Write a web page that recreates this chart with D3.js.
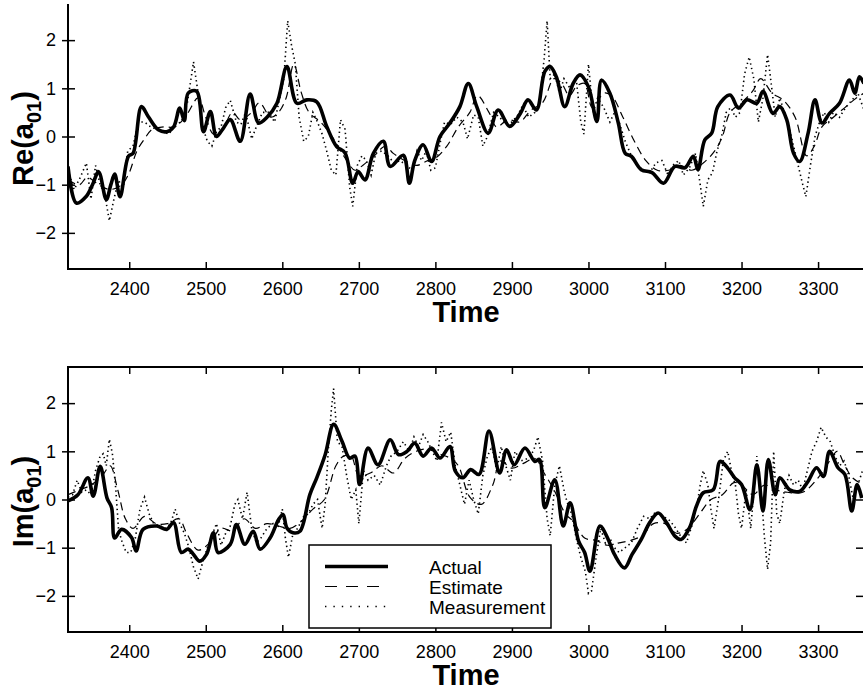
<!DOCTYPE html>
<html>
<head>
<meta charset="utf-8">
<script src="https://cdn.jsdelivr.net/npm/d3@7"></script>
<style>
  html, body { margin: 0; padding: 0; background: #fff; }
  svg { display: block; }
  text { font-family: "Liberation Sans", Arial, Helvetica, sans-serif; fill: #000; }
</style>
</head>
<body>
<svg id="chart" width="863" height="691"></svg>
<script>
// ---------------- DATA ----------------
const xTicks = [2400, 2500, 2600, 2700, 2800, 2900, 3000, 3100, 3200, 3300];
const yTicks = [-2, -1, 0, 1, 2];
const legendLabels = ["Actual", "Estimate", "Measurement"];

// Re(a01) — Actual
const reActualT = [2320,2331,2344,2352,2360,2370,2376,2381,2388,2399,2405,2416,2425,2438,2449,2458,2466,2472,2477,2488,2497,2506,2514,2522,2532,2545,2558,2569,2580,2593,2606,2619,2632,2645,2658,2671,2682,2692,2699,2708,2719,2732,2741,2758,2766,2773,2784,2795,2806,2819,2832,2843,2854,2869,2882,2897,2911,2921,2932,2943,2950,2958,2969,2980,2989,3000,3011,3017,3028,3039,3048,3056,3069,3083,3098,3113,3126,3137,3143,3152,3161,3169,3185,3196,3207,3220,3228,3241,3250,3259,3268,3276,3287,3296,3305,3315,3328,3341,3348,3354,3360];
const reActualV = [-0.62,-1.38,-1.24,-1.0,-0.73,-1.31,-1.0,-0.78,-1.25,-0.41,-0.35,0.62,0.41,0.14,0.1,0.2,0.59,0.33,0.9,0.94,0.1,0.52,0.0,0.15,0.35,-0.1,0.88,0.28,0.4,0.69,1.45,0.69,0.76,0.72,0.21,-0.21,-0.34,-0.97,-0.73,-0.9,-0.35,-0.1,-0.62,-0.39,-0.97,-0.5,-0.17,-0.52,0.0,0.28,0.62,1.1,0.62,0.07,0.55,0.21,0.48,0.76,0.55,1.35,1.45,1.24,0.62,1.1,1.28,1.03,0.31,1.17,0.9,0.28,-0.35,-0.41,-0.69,-0.75,-0.97,-0.62,-0.65,-0.41,-0.69,-0.07,0.07,0.62,0.86,0.59,0.76,0.69,0.94,0.48,0.62,0.35,-0.35,-0.52,0.07,0.76,0.28,0.48,0.69,1.17,0.9,1.24,1.1];

// Re(a01) — Estimate
const reEstimateT = [2320,2335,2345,2360,2375,2390,2400,2410,2420,2430,2445,2460,2475,2490,2500,2510,2520,2535,2545,2560,2570,2585,2595,2605,2615,2625,2635,2650,2665,2680,2695,2705,2720,2735,2745,2760,2775,2790,2800,2815,2830,2845,2855,2870,2880,2895,2910,2925,2940,2955,2965,2975,2985,2995,3005,3020,3030,3045,3060,3075,3090,3105,3120,3135,3150,3165,3175,3185,3200,3215,3225,3240,3255,3270,3285,3295,3305,3320,3335,3350,3360];
const reEstimateV = [-0.9,-1.0,-0.85,-1.0,-1.1,-1.0,-0.75,-0.3,-0.05,0.15,0.2,0.2,0.45,0.8,0.4,0.05,0.1,0.5,0.35,0.5,0.7,0.4,0.5,0.8,1.5,0.9,0.5,0.3,0.0,-0.4,-0.7,-0.6,-0.4,-0.2,-0.35,-0.5,-0.6,-0.5,-0.45,-0.2,0.2,0.5,0.85,0.5,0.2,0.35,0.3,0.55,0.7,1.2,1.1,0.85,1.05,1.1,0.6,0.9,0.85,0.4,-0.1,-0.5,-0.7,-0.7,-0.6,-0.7,-0.55,-0.3,0.0,0.5,0.7,0.95,1.2,0.9,0.75,0.4,-0.4,-0.2,0.2,0.4,0.6,0.8,0.9];

// Re(a01) — Measurement
const reMeasT = [2320,2328,2336,2344,2350,2356,2362,2368,2374,2380,2386,2392,2398,2405,2412,2420,2428,2436,2444,2452,2460,2468,2476,2484,2490,2496,2502,2508,2514,2520,2526,2532,2540,2546,2552,2560,2566,2574,2582,2590,2596,2602,2607,2612,2617,2622,2628,2634,2640,2646,2652,2658,2664,2670,2676,2682,2688,2692,2698,2704,2710,2716,2722,2730,2738,2746,2754,2762,2770,2776,2782,2788,2794,2800,2806,2812,2820,2828,2836,2842,2850,2856,2862,2868,2876,2884,2892,2900,2908,2914,2922,2930,2936,2942,2946,2950,2956,2962,2968,2976,2984,2990,2994,3000,3006,3012,3020,3028,3034,3040,3048,3056,3064,3072,3080,3088,3096,3104,3110,3118,3124,3132,3140,3146,3150,3156,3162,3168,3174,3180,3186,3192,3198,3204,3210,3216,3222,3228,3234,3238,3244,3250,3256,3262,3268,3274,3280,3284,3290,3296,3302,3308,3314,3320,3328,3336,3344,3352,3360];
const reMeasV = [-0.7,-1.1,-0.85,-0.55,-1.3,-0.6,-1.0,-1.2,-1.75,-1.3,-0.9,-1.1,-0.3,-0.2,0.3,0.3,0.2,0.15,0.1,0.05,0.25,0.3,0.7,1.55,0.9,0.2,-0.1,-0.2,0.1,0.2,0.6,0.75,0.3,0.25,0.5,-0.05,0.2,0.5,0.5,0.3,0.75,1.2,2.4,1.9,1.5,0.4,-0.1,0.0,0.5,0.3,0.05,-0.3,-0.7,-0.8,0.35,0.15,-1.05,-1.45,-0.6,-0.4,-0.5,-0.8,-0.35,-0.3,-0.4,-0.55,-0.5,-0.6,-0.7,-0.3,-0.5,-0.3,-0.7,-0.65,-0.15,0.3,0.25,0.4,0.3,-0.05,0.45,0.4,-0.2,0.0,0.5,0.4,0.25,0.3,0.45,0.65,0.4,0.5,0.7,1.6,2.4,1.2,1.3,0.9,1.2,1.0,1.2,0.3,0.05,1.5,0.5,0.8,0.6,0.3,0.5,0.3,-0.1,-0.4,-0.6,-0.7,-0.75,-0.55,-0.5,-0.8,-0.6,-0.5,-0.8,-0.65,-0.35,-1.0,-1.45,-0.9,-0.75,-0.3,0.0,0.5,0.6,0.4,0.5,1.3,1.65,1.2,0.3,0.8,1.7,1.2,0.4,0.8,0.5,0.2,-0.2,-0.6,-1.0,-1.25,-0.6,0.0,0.3,0.5,0.3,0.5,0.4,0.6,0.75,0.9,0.55];

// Im(a01) — Actual
const imActualT = [2320,2333,2346,2353,2362,2371,2377,2381,2390,2403,2409,2418,2436,2449,2458,2468,2477,2484,2492,2501,2510,2516,2532,2540,2551,2562,2571,2584,2595,2601,2606,2614,2623,2636,2645,2656,2667,2678,2688,2695,2701,2712,2725,2741,2752,2763,2773,2784,2795,2806,2819,2826,2836,2846,2857,2870,2884,2893,2903,2917,2930,2936,2943,2956,2967,2976,2987,2995,3002,3015,3025,3034,3047,3057,3069,3080,3091,3102,3113,3121,3132,3141,3150,3163,3172,3180,3191,3200,3211,3220,3228,3235,3244,3250,3263,3276,3287,3298,3307,3315,3326,3335,3344,3351,3357];
const imActualV = [-0.03,0.1,0.45,0.07,0.69,0.03,-0.17,-0.8,-0.62,-0.79,-1.07,-0.62,-0.55,-0.62,-0.48,-1.1,-1.03,-1.14,-1.28,-1.14,-0.69,-1.1,-0.93,-0.52,-0.93,-0.66,-1.03,-0.8,-0.42,-0.31,-0.59,-0.69,-0.66,0.1,0.45,0.93,1.56,1.21,0.86,0.9,0.31,1.07,0.72,1.24,0.93,1.0,1.17,0.9,1.07,0.86,1.1,0.59,0.45,0.62,0.52,1.42,0.55,1.03,0.72,1.07,0.79,0.83,-0.17,0.41,-0.55,-0.07,-0.86,-1.1,-1.49,-0.55,-0.8,-1.14,-1.42,-1.14,-0.83,-0.48,-0.28,-0.48,-0.76,-0.83,-0.59,-0.14,0.14,0.2,0.79,0.69,0.45,0.31,-0.21,0.72,-0.24,0.83,0.1,0.45,0.2,0.17,0.38,0.66,0.48,1.0,0.66,0.52,-0.24,0.31,0.03];

// Im(a01) — Estimate
const imEstimateT = [2320,2335,2350,2365,2375,2385,2395,2405,2420,2435,2450,2465,2475,2490,2505,2520,2535,2550,2565,2580,2595,2610,2625,2640,2655,2670,2680,2690,2700,2715,2730,2745,2760,2775,2790,2805,2820,2830,2845,2860,2875,2885,2900,2915,2930,2942,2955,2970,2980,2995,3010,3025,3040,3055,3070,3085,3100,3115,3130,3145,3160,3175,3190,3200,3215,3230,3245,3260,3280,3300,3315,3325,3335,3345,3360];
const imEstimateV = [0.1,0.2,0.3,0.5,0.7,0.2,-0.4,-0.6,-0.35,-0.5,-0.5,-0.4,-0.7,-1.05,-0.9,-0.6,-0.65,-0.4,-0.6,-0.5,-0.55,-0.6,-0.45,-0.2,0.0,0.7,0.9,0.9,0.5,0.55,0.7,0.55,0.85,1.0,1.05,0.95,0.85,0.7,0.05,-0.1,0.3,0.8,0.65,0.75,0.85,0.55,0.2,-0.3,-0.45,-0.8,-0.85,-0.95,-0.9,-0.85,-0.75,-0.5,-0.5,-0.7,-0.6,-0.3,0.0,0.1,0.35,0.3,0.1,0.3,0.2,0.15,0.15,0.45,0.8,1.0,0.7,0.45,0.3];

// Im(a01) — Measurement
const imMeasT = [2320,2326,2332,2338,2344,2350,2356,2362,2366,2370,2374,2378,2382,2386,2390,2396,2402,2408,2414,2420,2426,2432,2440,2448,2454,2460,2466,2472,2478,2484,2490,2496,2502,2508,2514,2520,2526,2532,2538,2542,2548,2554,2560,2566,2572,2580,2588,2594,2600,2604,2608,2614,2620,2628,2634,2640,2646,2652,2656,2660,2664,2667,2672,2678,2684,2690,2696,2700,2706,2712,2720,2728,2736,2742,2750,2758,2766,2772,2778,2784,2790,2796,2802,2808,2814,2820,2826,2832,2838,2844,2850,2856,2862,2868,2874,2880,2886,2892,2898,2904,2912,2920,2928,2934,2940,2946,2950,2956,2962,2968,2972,2978,2984,2990,2996,3000,3004,3010,3016,3022,3028,3034,3040,3048,3056,3064,3072,3080,3088,3096,3104,3112,3120,3128,3136,3142,3146,3150,3156,3160,3164,3170,3176,3182,3188,3192,3196,3200,3206,3212,3220,3226,3230,3234,3238,3242,3246,3250,3256,3262,3268,3274,3280,3286,3292,3298,3304,3310,3316,3322,3328,3334,3340,3346,3352,3358];
const imMeasV = [0.05,0.1,0.4,0.15,0.2,0.1,0.6,0.9,0.95,0.7,1.25,0.95,0.3,-0.6,-0.85,-1.1,-1.1,-0.8,-0.2,0.05,-0.3,-0.5,-0.55,-0.6,-0.5,-0.2,-0.5,-0.7,-1.0,-1.4,-1.65,-1.3,-1.0,-0.75,-0.5,-0.95,-0.7,-0.55,-0.1,0.0,-0.4,0.15,-0.6,-0.9,-0.8,-0.6,-0.5,-0.6,-0.2,-0.8,-1.2,-0.7,-0.6,-0.35,-0.3,-0.1,0.0,-0.6,-0.1,1.0,1.85,2.3,1.2,1.1,0.5,0.0,0.2,-0.5,0.6,0.4,0.5,0.3,0.7,0.9,1.0,1.2,1.0,1.3,1.1,1.35,1.2,1.0,0.8,1.6,1.2,1.4,0.7,0.3,-0.1,0.4,0.0,-0.3,0.5,0.9,1.1,0.6,1.1,0.7,0.4,1.0,0.8,0.85,1.0,1.3,0.8,-0.4,-0.75,0.3,0.7,0.2,-0.05,-0.3,-0.8,-1.2,-1.5,-1.95,-1.9,-1.2,-0.6,-0.9,-0.8,-1.0,-1.1,-1.0,-0.9,-0.6,-0.35,-0.4,-0.25,-0.35,-0.4,-0.55,-0.75,-0.9,-0.5,-0.1,0.3,0.6,0.3,-0.2,-0.6,0.0,0.8,1.0,0.5,0.3,-0.3,-0.6,0.2,-0.6,0.9,0.1,-0.8,-1.45,-0.9,1.0,-0.3,-0.5,0.2,0.5,0.3,0.4,0.2,0.6,1.0,1.2,1.5,1.3,1.2,0.9,0.7,0.8,0.5,0.0,0.3,0.6];

// ---------------- DRAWING ----------------
const svg = d3.select("#chart");
const xLeft = 68, xRight = 864;
const x = d3.scaleLinear().domain([2320, 3360]).range([xLeft, xRight]);

const panels = [
  { id: "re", top: 4, bottom: 269, label: "Re(a", drawTop: false,
    actual: [reActualT, reActualV], estimate: [reEstimateT, reEstimateV], meas: [reMeasT, reMeasV] },
  { id: "im", top: 367, bottom: 632, label: "Im(a", drawTop: true,
    actual: [imActualT, imActualV], estimate: [imEstimateT, imEstimateV], meas: [imMeasT, imMeasV] }
];

const zip = (t, v) => t.map((d, i) => [d, v[i]]);

panels.forEach(p => {
  const y = d3.scaleLinear().domain([-2.75, 2.75]).range([p.bottom, p.top]);
  const g = svg.append("g");

  svg.append("clipPath").attr("id", "clip-" + p.id)
    .append("rect").attr("x", xLeft).attr("y", p.top).attr("width", xRight - xLeft).attr("height", p.bottom - p.top);

  const lineLin = d3.line().x(d => x(d[0])).y(d => y(d[1]));
  const lineSmooth = d3.line().x(d => x(d[0])).y(d => y(d[1])).curve(d3.curveCatmullRom.alpha(0.5));
  const plot = g.append("g").attr("clip-path", "url(#clip-" + p.id + ")");

  plot.append("path").datum(zip(...p.meas)).attr("d", lineLin)
    .attr("fill", "none").attr("stroke", "#000").attr("stroke-width", 1.6)
    .attr("stroke-dasharray", "1.4,3.2");
  plot.append("path").datum(zip(...p.estimate)).attr("d", lineSmooth)
    .attr("fill", "none").attr("stroke", "#000").attr("stroke-width", 1.2)
    .attr("stroke-dasharray", "8,5");
  plot.append("path").datum(zip(...p.actual)).attr("d", lineSmooth)
    .attr("fill", "none").attr("stroke", "#000").attr("stroke-width", 3.6)
    .attr("stroke-linejoin", "round");

  // Axes (ticks pointing inward)
  const xb = d3.axisBottom(x).tickValues(xTicks).tickSize(-7).tickPadding(10).tickFormat(d3.format("d"));
  const gx = g.append("g").attr("transform", `translate(0,${p.bottom})`).call(xb);
  gx.select(".domain").remove();
  gx.selectAll("text").attr("font-size", 18).attr("dy", "0.9em");
  gx.selectAll("line").attr("stroke-width", 1.5);

  const yl = d3.axisLeft(y).tickValues(yTicks).tickSize(7).tickPadding(6).tickFormat(d => d < 0 ? "\u2212" + Math.abs(d) : d);
  const gy = g.append("g").attr("transform", `translate(${xLeft},0)`).call(yl);
  gy.select(".domain").remove();
  gy.selectAll("line").attr("x1", 7).attr("x2", -6).attr("stroke-width", 1.5);
  gy.selectAll("text").attr("font-size", 18).attr("x", -12);

  if (p.drawTop) {
    const xt = d3.axisTop(x).tickValues(xTicks).tickSize(-7).tickFormat("");
    const gt = g.append("g").attr("transform", `translate(0,${p.top})`).call(xt);
    gt.select(".domain").remove();
    gt.selectAll("line").attr("stroke-width", 1.5);
    const yr = d3.axisRight(y).tickValues(yTicks).tickSize(-7).tickFormat("");
    const gr = g.append("g").attr("transform", `translate(${xRight - 1},0)`).call(yr);
    gr.select(".domain").remove();
    gr.selectAll("line").attr("stroke-width", 1.5);
    g.append("rect").attr("x", xLeft).attr("y", p.top).attr("width", xRight - xLeft).attr("height", p.bottom - p.top)
      .attr("fill", "none").attr("stroke", "#000").attr("stroke-width", 2);
  } else {
    g.append("path").attr("d", `M${xLeft},${p.top}V${p.bottom}H${xRight}`)
      .attr("fill", "none").attr("stroke", "#000").attr("stroke-width", 2);
  }

  // x label
  g.append("text").attr("x", (xLeft + xRight) / 2).attr("y", p.bottom + 53)
    .attr("text-anchor", "middle").attr("font-size", 29).attr("font-weight", "bold").text("Time");

  // y label
  const cy = (p.top + p.bottom) / 2;
  const yt = g.append("text").attr("transform", `translate(33,${cy + 2}) rotate(-90)`)
    .attr("text-anchor", "middle").attr("font-size", 29).attr("font-weight", "bold");
  yt.append("tspan").text(p.label);
  yt.append("tspan").attr("font-size", 20).attr("dy", 8).text("01");
  yt.append("tspan").attr("dy", -8).text(")");
});

// Legend
const lg = svg.append("g");
lg.append("rect").attr("x", 309).attr("y", 545).attr("width", 242).attr("height", 83)
  .attr("fill", "#fff").attr("stroke", "#000").attr("stroke-width", 1.5);
const legStyles = [
  { w: 3.6, dash: null },
  { w: 1.2, dash: "12,9" },
  { w: 1.6, dash: "1.4,7" }
];
legendLabels.forEach((lab, i) => {
  const ly = 566.5 + i * 20;
  lg.append("line").attr("x1", 325).attr("x2", 388).attr("y1", ly).attr("y2", ly)
    .attr("stroke", "#000").attr("stroke-width", legStyles[i].w)
    .attr("stroke-dasharray", legStyles[i].dash);
  lg.append("text").attr("x", 429).attr("y", ly + 7).attr("font-size", 19).text(lab);
});
</script>
</body>
</html>
